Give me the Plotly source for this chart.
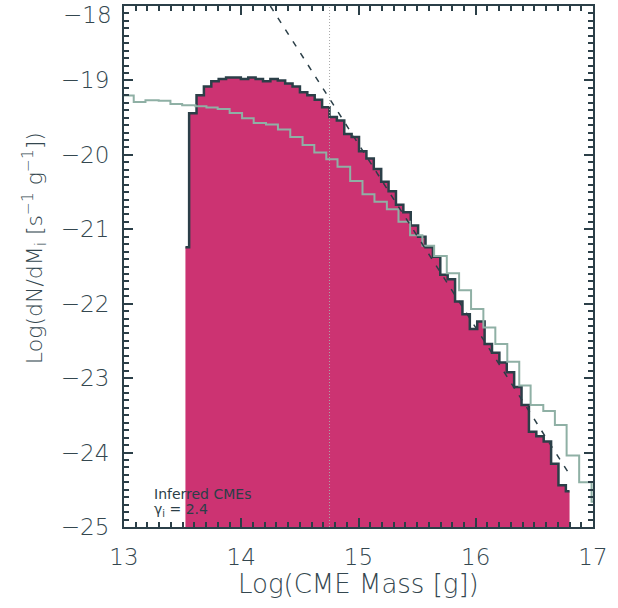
import plotly.graph_objects as go

# Inferred CMEs histogram (bin centers, log10 mass) and values log10(dN/dM)
hist_x = [13.524, 13.587, 13.650, 13.713, 13.776, 13.839, 13.902, 13.965, 14.028, 14.091,
          14.154, 14.217, 14.280, 14.343, 14.406, 14.469, 14.532, 14.595, 14.658, 14.721,
          14.784, 14.847, 14.910, 14.973, 15.036, 15.099, 15.162, 15.225, 15.288, 15.351,
          15.414, 15.477, 15.540, 15.603, 15.666, 15.729, 15.792, 15.855, 15.918, 15.981,
          16.044, 16.107, 16.170, 16.233, 16.296, 16.359, 16.422, 16.485, 16.548, 16.611,
          16.674, 16.737, 16.800]
hist_y = [-21.24, -19.44, -19.20, -19.08, -19.01, -18.98, -18.96, -18.96, -18.98, -18.96,
          -18.98, -19.01, -18.98, -19.00, -19.04, -19.08, -19.16, -19.20, -19.26, -19.36,
          -19.49, -19.54, -19.72, -19.76, -19.95, -20.05, -20.19, -20.36, -20.49, -20.67,
          -20.77, -20.95, -21.10, -21.24, -21.37, -21.61, -21.67, -21.97, -22.14, -22.34,
          -22.24, -22.54, -22.66, -22.79, -22.92, -23.12, -23.36, -23.72, -23.78, -23.85,
          -24.15, -24.44, -24.52]

# Observed distribution (step edges and levels)
obs_x = [12.9, 13.083, 13.183, 13.296, 13.396, 13.496, 13.609, 13.703, 13.799, 13.901,
         14.007, 14.106, 14.211, 14.313, 14.418, 14.523, 14.623, 14.725, 14.821, 14.929,
         15.034, 15.136, 15.242, 15.341, 15.440, 15.545, 15.645, 15.753, 15.858, 15.960,
         16.065, 16.167, 16.269, 16.371, 16.468, 16.576, 16.675, 16.775, 16.882, 16.988, 17.1]
obs_y = [-19.204, -19.289, -19.267, -19.273, -19.316, -19.333, -19.347, -19.364, -19.383, -19.436,
         -19.507, -19.573, -19.591, -19.658, -19.76, -19.867, -19.969, -20.058, -20.16, -20.35,
         -20.53, -20.63, -20.73, -20.90, -21.08, -21.22, -21.36, -21.59, -21.82, -22.07,
         -22.32, -22.54, -22.78, -23.10, -23.36, -23.44, -23.63, -24.04, -24.40, -24.66, -24.66]

# Power-law fit line (dashed) endpoints
fit_x = [14.248, 16.79]
fit_y = [-18.0, -24.27]

# Completeness limit (dotted vertical)
limit_x = 14.753

x_tickvals = [13, 14, 15, 16, 17]
x_ticktext = ["13", "14", "15", "16", "17"]
y_tickvals = [-25, -24, -23, -22, -21, -20, -19, -18]
y_ticktext = ["\u221225", "\u221224", "\u221223", "\u221222", "\u221221", "\u221220", "\u221219", "\u221218"]

X_RANGE = [13, 17]
Y_RANGE = [-25, -18]

AX = "#2b3f48"
TXT = "#34474f"
FILL = "#cc3372"
GREEN = "#8fb0a5"
FONT = "DejaVu Sans"
TICKFONT = dict(family=FONT, size=23, color=TXT, weight=200)

fig = go.Figure()
fig.add_trace(go.Scatter(x=[hist_x[0], hist_x[-1]], y=[Y_RANGE[0], Y_RANGE[0]], mode="lines",
                         line=dict(width=0, color=FILL), showlegend=False, hoverinfo="skip"))
fig.add_trace(go.Scatter(x=hist_x, y=hist_y, mode="lines", line_shape="hvh",
                         line=dict(color=AX, width=2.5), fill="tonexty", fillcolor=FILL,
                         showlegend=False))
fig.add_trace(go.Scatter(x=obs_x, y=obs_y, mode="lines", line_shape="hv",
                         line=dict(color=GREEN, width=2), showlegend=False))
fig.add_trace(go.Scatter(x=fit_x, y=fit_y, mode="lines",
                         line=dict(color=AX, width=1.5, dash="6px,8px"), showlegend=False))
fig.add_trace(go.Scatter(x=[limit_x, limit_x], y=Y_RANGE, mode="lines",
                         line=dict(color="#a9a9a9", width=1, dash="1px,2px"), showlegend=False))

axis_common = dict(showline=True, linecolor=AX, linewidth=2, mirror="ticks",
                   ticks="inside", ticklen=9, tickwidth=2, tickcolor=AX,
                   showgrid=False, zeroline=False, tickfont=TICKFONT,
                   minor=dict(ticks="inside", ticklen=5, tickwidth=2, tickcolor=AX, dtick=0.1, showgrid=False))

fig.update_xaxes(range=X_RANGE, tickvals=x_tickvals, ticktext=x_ticktext,
                 ticklabelstandoff=8, ticklabeloverflow="allow", **axis_common)
# top label (-18) is drawn just below its tick, as in the original
fig.update_yaxes(range=Y_RANGE, tickvals=y_tickvals, ticktext=y_ticktext[:-1] + [""],
                 ticklabelstandoff=8, **axis_common)
fig.add_annotation(x=0, xref="paper", y=y_tickvals[-1], yref="y", text=y_ticktext[-1],
                   showarrow=False, xanchor="right", yanchor="middle", xshift=-10, yshift=-9,
                   font=TICKFONT)

fig.add_annotation(x=0.5, y=-0.11, xref="paper", yref="paper", showarrow=False,
                   text="Log(CME Mass [g])", xanchor="center", yanchor="middle",
                   font=dict(family=FONT, size=26, color=TXT, weight=200))
fig.add_annotation(x=-0.19, y=0.535, xref="paper", yref="paper", showarrow=False,
                   text="Log(dN/dM<sub>i</sub> [s<sup>\u22121</sup> g<sup>\u22121</sup>])",
                   textangle=-90, xanchor="center", yanchor="middle",
                   font=dict(family=FONT, size=22, color=TXT, weight=200))
fig.add_annotation(x=13.24, y=-24.55, showarrow=False, text="Inferred CMEs",
                   xanchor="left", yanchor="middle",
                   font=dict(family=FONT, size=14, color=AX))
fig.add_annotation(x=13.24, y=-24.77, showarrow=False, text="\u03b3<sub>i</sub> = 2.4",
                   xanchor="left", yanchor="middle",
                   font=dict(family=FONT, size=14, color=AX))

fig.update_layout(width=618, height=608, margin=dict(l=124, r=25, t=4, b=81),
                  plot_bgcolor="white", paper_bgcolor="white", showlegend=False)

fig.write_html("out.html", config={"displayModeBar": False},
               post_script="document.body.style.margin='0px';")
